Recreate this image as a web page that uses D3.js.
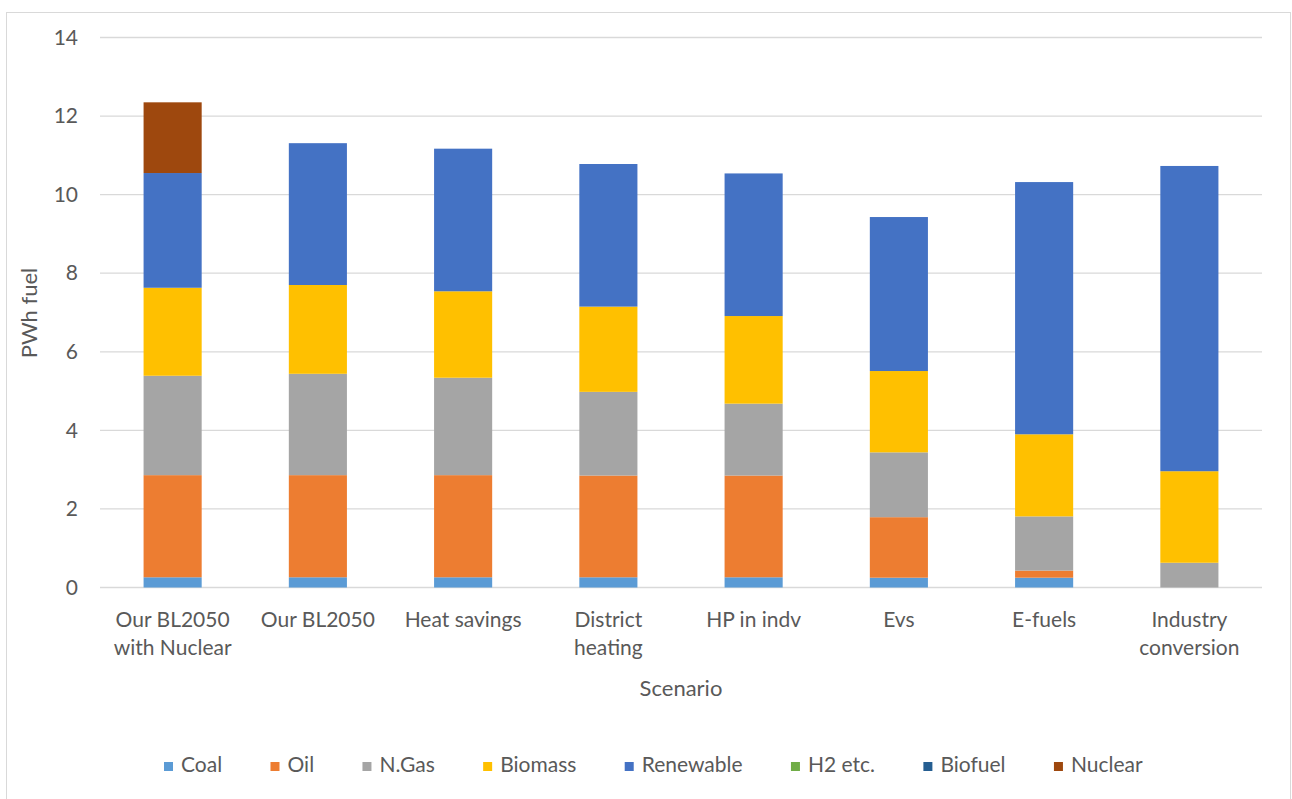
<!DOCTYPE html>
<html>
<head>
<meta charset="utf-8">
<script src="https://cdn.jsdelivr.net/npm/d3@7"></script>
<style>
  html, body { margin: 0; padding: 0; background: #ffffff; }
  svg { display: block; }
  text { font-family: Lato, "Open Sans", sans-serif; fill: #595959; }
</style>
</head>
<body>
<svg id="chart" width="1292" height="799"></svg>
<script>
// Scenario categories (multi-line labels split on "\n")
const scenarios = [
  "Our BL2050\nwith Nuclear",
  "Our BL2050",
  "Heat savings",
  "District\nheating",
  "HP in indv",
  "Evs",
  "E-fuels",
  "Industry\nconversion"
];

// Fuel series, PWh per scenario
const fuels = ["Coal", "Oil", "N.Gas", "Biomass", "Renewable", "H2 etc.", "Biofuel", "Nuclear"];
const coal      = [0.26, 0.26, 0.26, 0.26, 0.26, 0.25, 0.25, 0.00];
const oil       = [2.60, 2.60, 2.60, 2.59, 2.59, 1.54, 0.18, 0.00];
const nGas      = [2.53, 2.58, 2.48, 2.13, 1.83, 1.65, 1.38, 0.63];
const biomass   = [2.24, 2.26, 2.20, 2.17, 2.23, 2.07, 2.09, 2.33];
const renewable = [2.92, 3.61, 3.63, 3.63, 3.63, 3.92, 6.42, 7.77];
const h2        = [0, 0, 0, 0, 0, 0, 0, 0];
const biofuel   = [0, 0, 0, 0, 0, 0, 0, 0];
const nuclear   = [1.80, 0, 0, 0, 0, 0, 0, 0];

const yTicks = [0, 2, 4, 6, 8, 10, 12, 14];
const colors = ["#5B9BD5", "#ED7D31", "#A5A5A5", "#FFC000", "#4472C4", "#70AD47", "#255E91", "#9E480E"];

const seriesValues = [coal, oil, nGas, biomass, renewable, h2, biofuel, nuclear];
const rows = scenarios.map((s, i) => {
  const r = { scenario: s };
  fuels.forEach((f, k) => { r[f] = seriesValues[k][i]; });
  return r;
});

const svg = d3.select("#chart");
const W = 1292, H = 799;
const margin = { left: 100, right: 30, top: 37.5, bottom: 211.5 };
const plotW = W - margin.left - margin.right;
const plotH = H - margin.top - margin.bottom;
const FONT = "21px";

// Chart frame
svg.append("rect")
  .attr("x", 6.5).attr("y", 12.5)
  .attr("width", 1284).attr("height", 800)
  .attr("fill", "#ffffff").attr("stroke", "#d9d9d9").attr("stroke-width", 1);

const g = svg.append("g").attr("transform", `translate(${margin.left},${margin.top})`);

const x = d3.scaleBand().domain(scenarios).range([0, plotW]).paddingInner(0.6).paddingOuter(0.3);
const y = d3.scaleLinear().domain([0, 14]).range([plotH, 0]);

// Horizontal gridlines
g.append("g")
  .selectAll("line")
  .data(yTicks)
  .join("line")
  .attr("x1", 0).attr("x2", plotW)
  .attr("y1", d => y(d)).attr("y2", d => y(d))
  .attr("stroke", "#d9d9d9").attr("stroke-width", 1.3);

// Y axis labels
const yAxis = d3.axisLeft(y).tickValues(yTicks).tickSize(0).tickPadding(22);
const yg = g.append("g").call(yAxis);
yg.select(".domain").remove();
yg.selectAll("text")
  .style("font-family", "Lato, 'Open Sans', sans-serif")
  .style("font-size", FONT)
  .attr("fill", "#595959");

// Stacked bars
const stack = d3.stack().keys(fuels);
const layers = stack(rows);

g.append("g")
  .selectAll("g")
  .data(layers)
  .join("g")
  .attr("fill", (d, i) => colors[i])
  .selectAll("rect")
  .data(d => d.filter(p => p[1] - p[0] > 0))
  .join("rect")
  .attr("x", d => x(d.data.scenario))
  .attr("width", x.bandwidth())
  .attr("y", d => y(d[1]))
  .attr("height", d => y(d[0]) - y(d[1]));

// Category labels
const xl = g.append("g").attr("transform", `translate(0,${plotH})`);
scenarios.forEach(s => {
  const lines = s.split("\n");
  const t = xl.append("text")
    .attr("text-anchor", "middle")
    .attr("x", x(s) + x.bandwidth() / 2)
    .style("font-size", FONT);
  lines.forEach((ln, i) => {
    t.append("tspan")
      .attr("x", x(s) + x.bandwidth() / 2)
      .attr("y", 39 + i * 28)
      .text(ln);
  });
});

// Axis titles
svg.append("text")
  .attr("x", margin.left + plotW / 2)
  .attr("y", 696)
  .attr("text-anchor", "middle")
  .style("font-size", "22px")
  .text("Scenario");

svg.append("text")
  .attr("transform", "translate(37,313) rotate(-90)")
  .attr("text-anchor", "middle")
  .style("font-size", "22px")
  .text("PWh fuel");

// Legend: items spread across a fixed span
const legend = svg.append("g");
const items = legend.selectAll("g").data(fuels).join("g");
items.append("rect")
  .attr("width", 9).attr("height", 9)
  .attr("y", -10)
  .attr("fill", (d, i) => colors[i]);
items.append("text")
  .attr("x", 17).attr("y", 0)
  .style("font-size", FONT)
  .text(d => d);
const widths = [];
items.each(function () { widths.push(this.getBBox().width); });
const legendStart = 164, legendEnd = 1143;
const gap = (legendEnd - legendStart - d3.sum(widths)) / (widths.length - 1);
let cx = legendStart;
items.attr("transform", (d, i) => {
  const tx = cx;
  cx += widths[i] + gap;
  return `translate(${tx},772)`;
});
</script>
</body>
</html>
